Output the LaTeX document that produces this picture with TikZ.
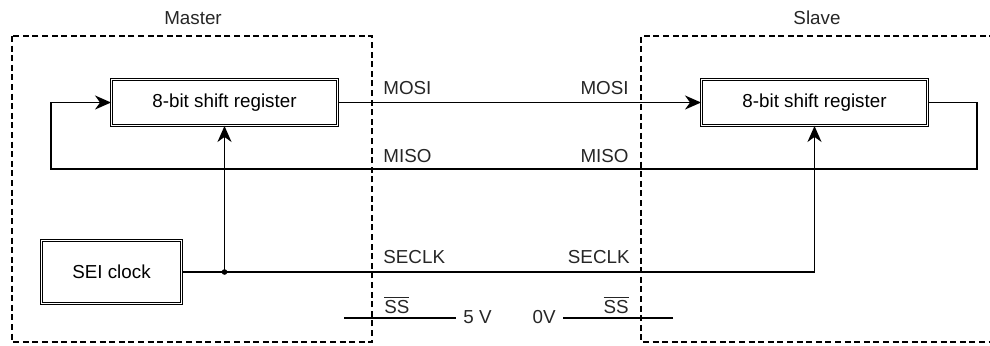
\documentclass[tikz,border=0pt]{standalone}
\usepackage{fontspec}
\setmainfont{Liberation Sans}
\usepackage{tikz}
\usetikzlibrary{arrows.meta}

\begin{document}
\begin{tikzpicture}[x=0.5pt,y=-0.5pt,
  font=\fontsize{9.4}{11}\selectfont,
  txt/.style={inner sep=0pt, text=black!85},
  region/.style={line width=0.65pt, dash pattern=on 3pt off 1.8pt},
  block/.style={draw, double, line width=0.45pt, double distance=0.8pt, align=center},
  sig/.style={line width=0.85pt},
  tip/.style={-{Stealth[length=8pt,width=7pt,inset=2.5pt]}}]
\useasboundingbox (0,0) rectangle (990,345);

% master and slave regions
\draw[region] (12,36) rectangle (372,342);
\draw[region] (1005,36) -- (641,36) -- (641,342) -- (1005,342);
\node[txt] (master) at (193,18) {Master};
\node[txt] (slave) at (817,18) {Slave};

% blocks
\node[block, minimum width=113pt, minimum height=23pt] (mreg) at (224.5,102.5) {8-bit shift register};
\node[block, minimum width=113pt, minimum height=23pt] (sreg) at (814.5,102.5) {8-bit shift register};
\node[block, minimum width=70pt, minimum height=31.5pt] (clk) at (111.5,272) {SEI clock};

% MOSI
\draw[sig,tip] (mreg.east) -- (sreg.west);
% MISO loop
\coordinate (misoR) at (977,169);
\coordinate (misoL) at (51,169);
\draw[sig,tip] (sreg.east) -| (misoR) -- (misoL) |- (mreg.west);
% clock
\coordinate (junc) at (mreg.south |- clk.east);
\draw[sig,tip] (clk.east) -| (sreg.south);
\draw[sig,tip] (junc) -- (mreg.south);
\fill (junc) circle (1.4pt);

% line labels
\node[txt, anchor=west] (tMosiM) at (383,88) {MOSI};
\node[txt, anchor=east] (tMosiS) at (629,88) {MOSI};
\node[txt, anchor=west] (tMisoM) at (383,156) {MISO};
\node[txt, anchor=east] (tMisoS) at (629,156) {MISO};
\node[txt, anchor=west] (tClkM) at (383,257) {SECLK};
\node[txt, anchor=east] (tClkS) at (630,257) {SECLK};
\node[txt, anchor=west] (tSsM) at (384,305) {$\overline{\hbox{SS}}$};
\node[txt, anchor=east] (tSsS) at (629,305) {$\overline{\hbox{SS}}$};

% slave select
\node[txt, anchor=west, inner sep=3.5pt] (tFive) at (456,317) {5 V};
\node[txt, anchor=east, inner sep=3.5pt] (tZero) at (563,317) {0V};
\coordinate (ssA) at (344,318);
\coordinate (ssB) at (673,318);
\draw[sig] (ssA) -- (ssA -| tFive.west);
\draw[sig] (ssB) -- (ssB -| tZero.east);
\end{tikzpicture}
\end{document}
